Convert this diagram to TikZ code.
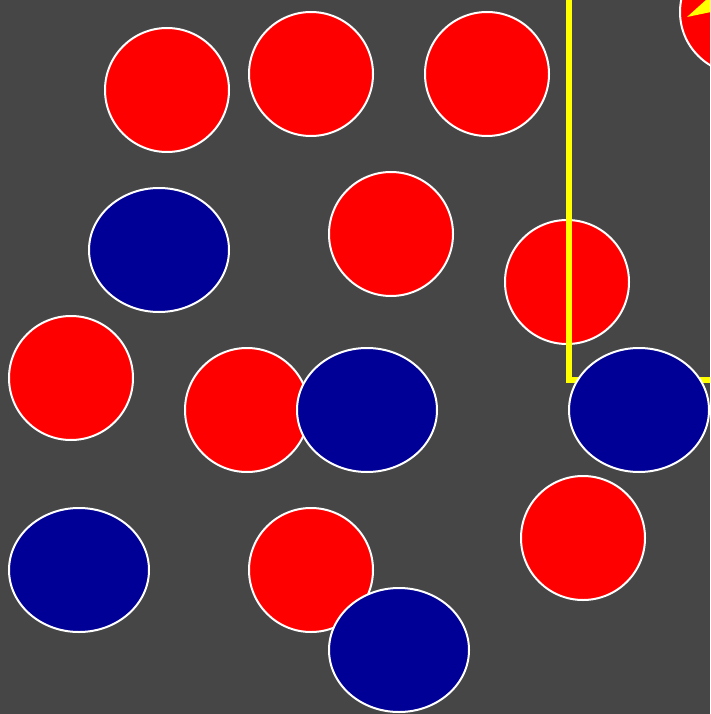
\documentclass[tikz,border=0pt]{standalone}
\usetikzlibrary{shapes.geometric}
\definecolor{board}{RGB}{70,70,70}
\definecolor{dotred}{RGB}{255,0,0}
\definecolor{dotblue}{RGB}{0,0,150}
\definecolor{lineyellow}{RGB}{255,255,0}
\tikzset{
  reddot/.style={circle,fill=dotred,draw=white,line width=2pt,minimum size=124pt,inner sep=0pt},
  bluedot/.style={ellipse,fill=dotblue,draw=white,line width=2pt,minimum width=140pt,minimum height=124pt,inner sep=0pt},
  boundary/.style={draw=lineyellow,line width=6pt}
}
\begin{document}
\begin{tikzpicture}[x=1pt,y=-1pt]
\fill[board] (0,0) rectangle (710,714);
\useasboundingbox (0,0) rectangle (710,714);
\begin{scope}
\clip (0,0) rectangle (710,714);
% top right circle with bolt
\node[reddot] (r10) at (742,12) {};
\fill[lineyellow] (687,17) -- (707,-1) -- (711,-1) -- (711,12) -- cycle;
% red circles
\node[reddot] (r1) at (167,90) {};
\node[reddot] (r2) at (311,74) {};
\node[reddot] (r3) at (487,74) {};
\node[reddot] (r4) at (391,234) {};
\node[reddot] (r5) at (567,282) {};
\node[reddot] (r6) at (71,378) {};
\node[reddot] (r7) at (247,410) {};
\node[reddot] (r8) at (311,570) {};
\node[reddot] (r9) at (583,538) {};
% yellow boundary
\coordinate (ytop) at (569,-5);
\coordinate (ycorner) at (569,380);
\coordinate (yright) at (715,380);
\draw[boundary] (ytop) -- (ycorner) -- (yright);
% blue ellipses
\node[bluedot] (b1) at (159,250) {};
\node[bluedot] (b2) at (367,410) {};
\node[bluedot] (b3) at (639,410) {};
\node[bluedot] (b4) at (79,570) {};
\node[bluedot] (b5) at (399,650) {};
\end{scope}
\end{tikzpicture}
\end{document}
